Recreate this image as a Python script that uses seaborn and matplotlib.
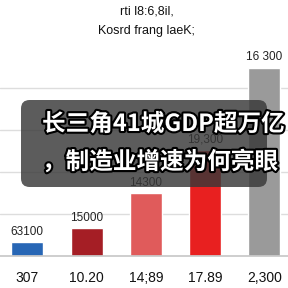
import matplotlib
matplotlib.use("Agg")
import matplotlib.pyplot as plt
import matplotlib.patheffects as pe
from matplotlib.patches import FancyBboxPatch
import seaborn as sns
import pandas as pd

categories = ["307", "10.20", "14;89", "17.89", "2,300"]
values = [1700, 3300, 7500, 12600, 22400]
value_labels = ["63100", "15000", "14300", "19,300", "16 300"]
colors = ["#2766b5", "#a51e25", "#e05b5b", "#e82020", "#9a9a9a"]
title_lines = ["rti l8:6,8il,", "Kosrd frang laeK;"]
overlay_lines = ["长三角41城GDP超万亿", "，制造业增速为何亮眼"]

sns.set_theme(style="white")
plt.rcParams['font.family'] = ['Liberation Sans', 'DejaVu Sans']

df = pd.DataFrame({"cat": categories, "val": values})

W = H = 288
fig = plt.figure(figsize=(2.88, 2.88), dpi=100)
ax = fig.add_axes([0, 32 / H, 1, (256 - 50) / H])
sns.barplot(data=df, x="cat", y="val", hue="cat", palette=colors,
            width=0.54, legend=False, ax=ax, saturation=1)
ax.set_xlim(-0.46, 4.40)
ax.set_ylim(0, 24500)
ax.set_yticks([5000, 10000, 15000, 20000])
ax.yaxis.grid(True, color="#dddddd", linewidth=1)
ax.set_axisbelow(True)
for s in ["left", "right", "top"]:
    ax.spines[s].set_visible(False)
ax.spines["bottom"].set_color("#c8c8c8")
ax.tick_params(axis="y", left=False, labelleft=False)
ax.tick_params(axis="x", bottom=False, labelsize=10, pad=5, colors="#111111")
ax.set_xlabel("")
ax.set_ylabel("")
for i, (v, lab) in enumerate(zip(values, value_labels)):
    ax.annotate(lab, (i, v), xytext=(0, 3), textcoords="offset points",
                ha="center", va="bottom", fontsize=8.5, color="#222222")

fig.text(0.51, 1 - 12 / H, title_lines[0], ha="center", va="center", fontsize=9, color="#111111")
fig.text(0.51, 1 - 31 / H, title_lines[1], ha="center", va="center", fontsize=9, color="#111111")

box = FancyBboxPatch((21 / W, 1 - 187 / H), (267 - 21) / W, (187 - 100) / H,
                     boxstyle="round,pad=0,rounding_size=0.03",
                     transform=fig.transFigure, facecolor="#383838",
                     edgecolor="none", alpha=0.82, zorder=5)
fig.add_artist(box)

cjk = ['Noto Sans CJK SC', 'DejaVu Sans']
stroke = [pe.withStroke(linewidth=3, foreground="black")]
fig.text(42 / W, 1 - 124 / H, overlay_lines[0], ha="left", va="center",
         fontsize=17, fontweight="bold", color="white", family=cjk,
         path_effects=stroke, zorder=6)
fig.text(42 / W, 1 - 162 / H, overlay_lines[1], ha="left", va="center",
         fontsize=17, fontweight="bold", color="white", family=cjk,
         path_effects=stroke, zorder=6)

fig.savefig("out.png", dpi=100)
